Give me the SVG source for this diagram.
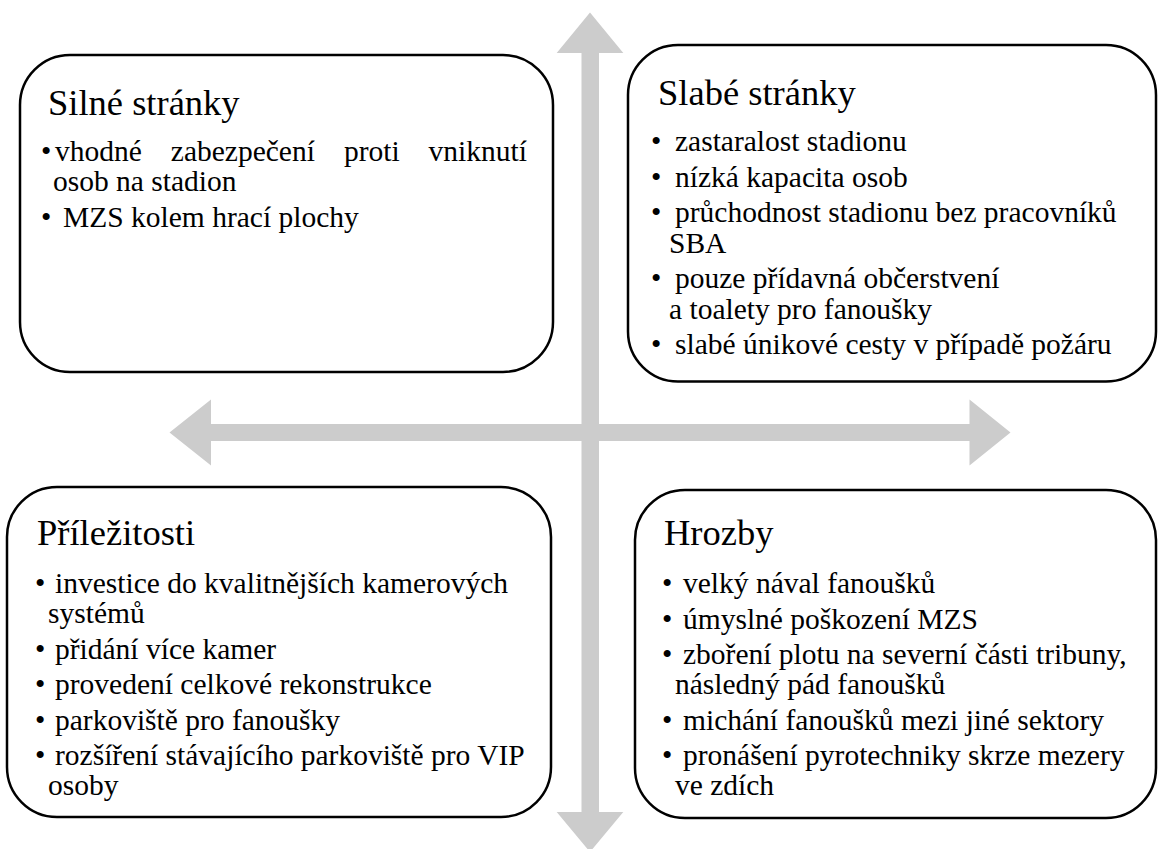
<svg xmlns="http://www.w3.org/2000/svg" width="1159" height="849" viewBox="0 0 1159 849">
<style>
.box{fill:#ffffff;stroke:#000000;stroke-width:2.5}
.arrow{fill:#cccccc;stroke:none}
.title{font-family:"Liberation Serif",serif;font-size:36.5px;fill:#000000}
.body{font-family:"Liberation Serif",serif;font-size:29.5px;fill:#000000}
</style>
<rect width="1159" height="849" fill="#ffffff"/>
<g id="connectors">
  <path class="arrow" d="M590,12.5 L623.3,53 L599,53 L599,812 L623.3,812 L590,852 L556.7,812 L581.5,812 L581.5,53 L556.7,53 Z"/>
  <path class="arrow" d="M169.5,432.5 L211,399.5 L211,424 L969.5,424 L969.5,399.5 L1010.5,432.5 L969.5,465.5 L969.5,441 L211,441 L211,465.5 Z"/>
</g>
<g id="silne-stranky">
  <rect class="box" x="20" y="55" width="533" height="317" rx="50" ry="50"/>
  <text class="title" x="48" y="115">Silné stránky</text>
  <text class="body"><tspan x="41" y="161">•</tspan><tspan x="55" y="161">vhodné</tspan><tspan x="170.8" y="161">zabezpečení</tspan><tspan x="343.9" y="161">proti</tspan><tspan x="428.6" y="161">vniknutí</tspan></text>
  <text class="body" x="53" y="191">osob na stadion</text>
  <text class="body"><tspan x="41" y="226.5">•</tspan><tspan x="63" y="226.5">MZS kolem hrací plochy</tspan></text>
</g>
<g id="slabe-stranky">
  <rect class="box" x="628" y="45" width="528" height="336.5" rx="50" ry="50"/>
  <text class="title" x="658" y="105">Slabé stránky</text>
  <text class="body"><tspan x="651" y="150.7">•</tspan><tspan x="675" y="150.7">zastaralost stadionu</tspan></text>
  <text class="body"><tspan x="651" y="186.5">•</tspan><tspan x="675" y="186.5">nízká kapacita osob</tspan></text>
  <text class="body"><tspan x="651" y="222.3">•</tspan><tspan x="675" y="222.3">průchodnost stadionu bez pracovníků</tspan></text>
  <text class="body" x="669" y="252.5">SBA</text>
  <text class="body"><tspan x="651" y="288.3">•</tspan><tspan x="675" y="288.3">pouze přídavná občerstvení</tspan></text>
  <text class="body" x="669" y="318.5">a toalety pro fanoušky</text>
  <text class="body"><tspan x="651" y="354">•</tspan><tspan x="675" y="354">slabé únikové cesty v případě požáru</tspan></text>
</g>
<g id="prilezitosti">
  <rect class="box" x="7" y="487" width="544" height="330" rx="50" ry="50"/>
  <text class="title" x="37" y="545">Příležitosti</text>
  <text class="body"><tspan x="35" y="593">•</tspan><tspan x="55" y="593">investice do kvalitnějších kamerových</tspan></text>
  <text class="body" x="48" y="623">systémů</text>
  <text class="body"><tspan x="35" y="658.5">•</tspan><tspan x="55" y="658.5">přidání více kamer</tspan></text>
  <text class="body"><tspan x="35" y="694">•</tspan><tspan x="55" y="694">provedení celkové rekonstrukce</tspan></text>
  <text class="body"><tspan x="35" y="729.5">•</tspan><tspan x="55" y="729.5">parkoviště pro fanoušky</tspan></text>
  <text class="body"><tspan x="35" y="765">•</tspan><tspan x="55" y="765">rozšíření stávajícího parkoviště pro VIP</tspan></text>
  <text class="body" x="48" y="795">osoby</text>
</g>
<g id="hrozby">
  <rect class="box" x="635" y="490" width="521" height="328" rx="50" ry="50"/>
  <text class="title" x="664" y="545">Hrozby</text>
  <text class="body"><tspan x="662" y="593">•</tspan><tspan x="683" y="593">velký nával fanoušků</tspan></text>
  <text class="body"><tspan x="662" y="628.5">•</tspan><tspan x="683" y="628.5">úmyslné poškození MZS</tspan></text>
  <text class="body"><tspan x="662" y="664">•</tspan><tspan x="683" y="664">zboření plotu na severní části tribuny,</tspan></text>
  <text class="body" x="675" y="694">následný pád fanoušků</text>
  <text class="body"><tspan x="662" y="729.5">•</tspan><tspan x="683" y="729.5">michání fanoušků mezi jiné sektory</tspan></text>
  <text class="body"><tspan x="662" y="765">•</tspan><tspan x="683" y="765">pronášení pyrotechniky skrze mezery</tspan></text>
  <text class="body" x="675" y="795">ve zdích</text>
</g>
</svg>
